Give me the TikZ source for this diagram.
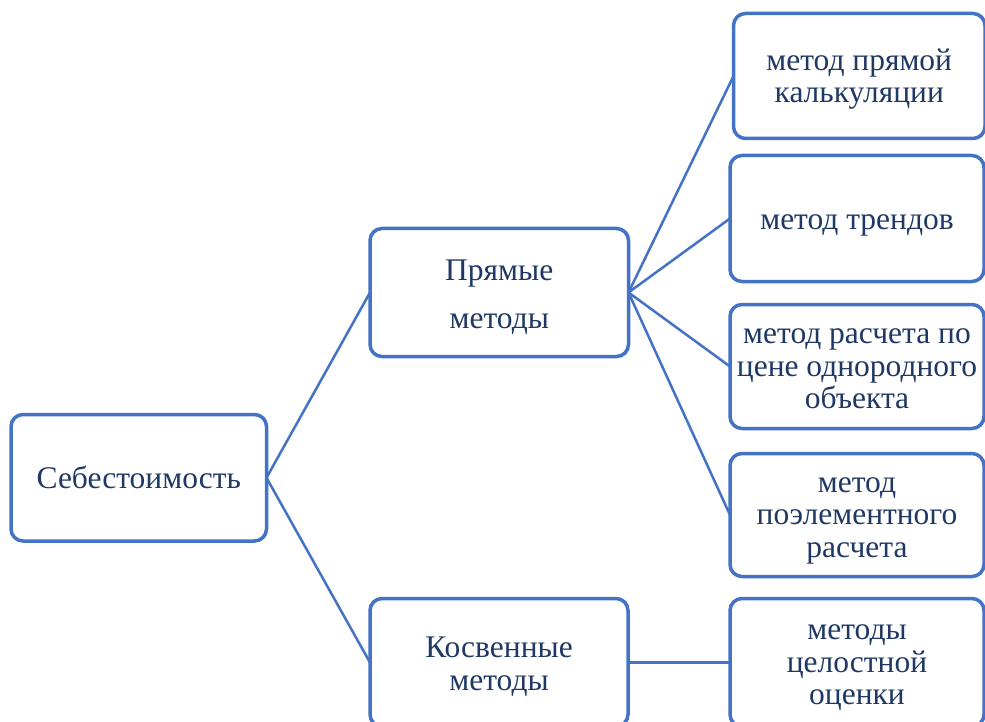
\documentclass[tikz,border=0pt]{standalone}
\usepackage{fontspec}
\setmainfont{Liberation Serif}
\definecolor{boxblue}{RGB}{68,114,196}
\definecolor{txtnavy}{RGB}{31,56,100}
\newcommand\hpad[1]{\rule{0pt}{#1}}
\newcommand\dpad{\rule[-9.75pt]{0pt}{9.75pt}}
\begin{document}
\begin{tikzpicture}[x=1pt,y=-1pt,
  box/.style={draw=boxblue, line width=3.5pt, rounded corners=12pt, fill=white,
    inner sep=0pt, outer sep=0pt, align=center, text=txtnavy,
    font=\fontsize{31.5}{32.5}\selectfont},
  onebox/.style={box, execute at begin node={\rule{0pt}{32pt}},
    execute at end node={\dpad}},
  conn/.style={draw=boxblue, line width=2.5pt}]
\useasboundingbox (0,0) rectangle (985,722);
\clip (0,0) rectangle (985,722);
\fill[white] (0,0) rectangle (985,722);
\node[onebox, minimum width=255.5pt, minimum height=126.5pt] (s) at (138.75,477.75) {Себестоимость};
\node[box, minimum width=258.5pt, minimum height=128pt] (p) at (499.25,292.5) {\hpad{33.8pt}Прямые\\[15.5pt]методы\dpad};
\node[box, minimum width=258pt, minimum height=128pt] (k) at (499,662.5) {\hpad{32.8pt}Косвенные\\методы\dpad};
\node[box, minimum width=251.5pt, minimum height=125pt] (r1) at (859.25,76) {\hpad{30.8pt}метод прямой\\калькуляции\dpad};
\node[onebox, minimum width=254pt, minimum height=126pt] (r2) at (857,218.5) {метод трендов};
\node[box, minimum width=254pt, minimum height=124pt] (r3) at (857,366.5) {\hpad{28.8pt}метод расчета по\\цене однородного\\объекта\dpad};
\node[box, minimum width=254pt, minimum height=123pt] (r4) at (857,515) {\hpad{28.8pt}метод\\поэлементного\\расчета\dpad};
\node[box, minimum width=254pt, minimum height=128pt] (r5) at (857,662.5) {\hpad{28.8pt}методы\\целостной\\оценки\dpad};
\draw[conn] (s.east) -- (p.west);
\draw[conn] (s.east) -- (k.west);
\draw[conn] (p.east) -- (r1.west);
\draw[conn] (p.east) -- (r2.west);
\draw[conn] (p.east) -- (r3.west);
\draw[conn] (p.east) -- (r4.west);
\draw[conn] (k.east) -- (r5.west);
\end{tikzpicture}
\end{document}
